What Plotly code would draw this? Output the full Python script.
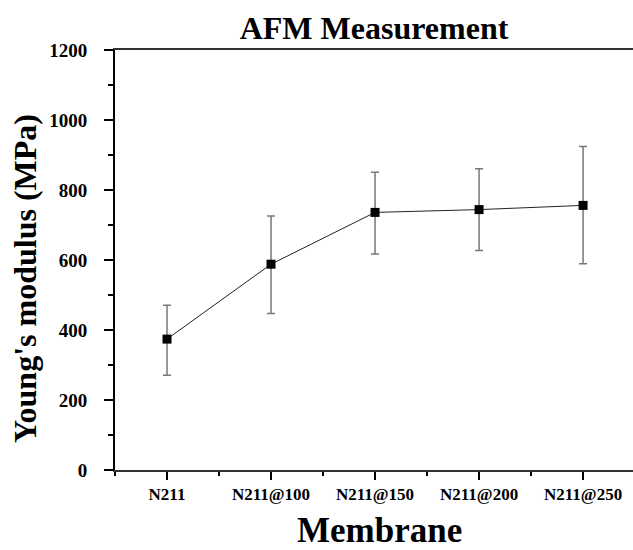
import plotly.graph_objects as go

categories = ["N211", "N211@100", "N211@150", "N211@200", "N211@250"]
modulus = [374, 588, 736, 744, 756]
err_plus = [97, 138, 115, 117, 168]
err_minus = [103, 141, 119, 117, 167]
y_ticks = [0, 200, 400, 600, 800, 1000, 1200]

FONT = "Liberation Serif"
xpos = list(range(len(categories)))

fig = go.Figure()
fig.add_trace(go.Scatter(
    x=xpos, y=modulus,
    mode="lines+markers",
    line=dict(color="#222222", width=1),
    marker=dict(symbol="square", size=9, color="black"),
    error_y=dict(type="data", symmetric=False, array=err_plus, arrayminus=err_minus,
                 color="#777777", thickness=1.5, width=4),
    showlegend=False,
))

fig.update_layout(
    width=633, height=550,
    margin=dict(l=115, r=0, t=50, b=80),
    paper_bgcolor="white", plot_bgcolor="white",
    title=dict(text="<b>AFM Measurement</b>", x=0.5, xref="paper", xanchor="center",
               y=1 - 28 / 550, yanchor="middle",
               font=dict(family=FONT, size=32, color="black")),
    font=dict(family=FONT, color="black"),
)

fig.update_xaxes(
    range=[-0.5, 4.48],
    tickvals=xpos, ticktext=[f"<b>{c}</b>" for c in categories],
    tickfont=dict(family=FONT, size=17, color="black"),
    ticks="outside", ticklen=8, tickwidth=1.5, tickcolor="black",
    ticklabelstandoff=0,
    minor=dict(tickvals=[-0.5, 0.5, 1.5, 2.5, 3.5], ticks="outside", ticklen=4,
               tickwidth=1.5, tickcolor="black"),
    showline=True, linecolor="#333333", linewidth=1.5, mirror=True,
    showgrid=False, zeroline=False,
)
fig.update_yaxes(
    range=[0, 1200],
    tickvals=y_ticks, ticktext=[f"<b>{v}</b>" for v in y_ticks],
    tickfont=dict(family=FONT, size=19, color="black"),
    ticks="outside", ticklen=9, tickwidth=1.5, tickcolor="black",
    ticklabelstandoff=13,
    minor=dict(tickvals=[100, 300, 500, 700, 900, 1100], ticks="outside", ticklen=5,
               tickwidth=1.5, tickcolor="black"),
    showline=True, linecolor="black", linewidth=2, mirror=False,
    showgrid=False, zeroline=False,
)

fig.add_annotation(
    text="<b>Young's modulus (MPa)</b>", textangle=-90,
    xref="paper", yref="paper", x=(25 - 115) / 518, y=(470 - 279) / 420,
    xanchor="center", yanchor="middle", showarrow=False,
    font=dict(family=FONT, size=32, color="black"),
)
fig.add_annotation(
    text="<b>Membrane</b>",
    xref="paper", yref="paper", x=(379 - 115) / 518, y=(470 - 530) / 420,
    xanchor="center", yanchor="middle", showarrow=False,
    font=dict(family=FONT, size=35, color="black"),
)

fig.write_html("out.html")
